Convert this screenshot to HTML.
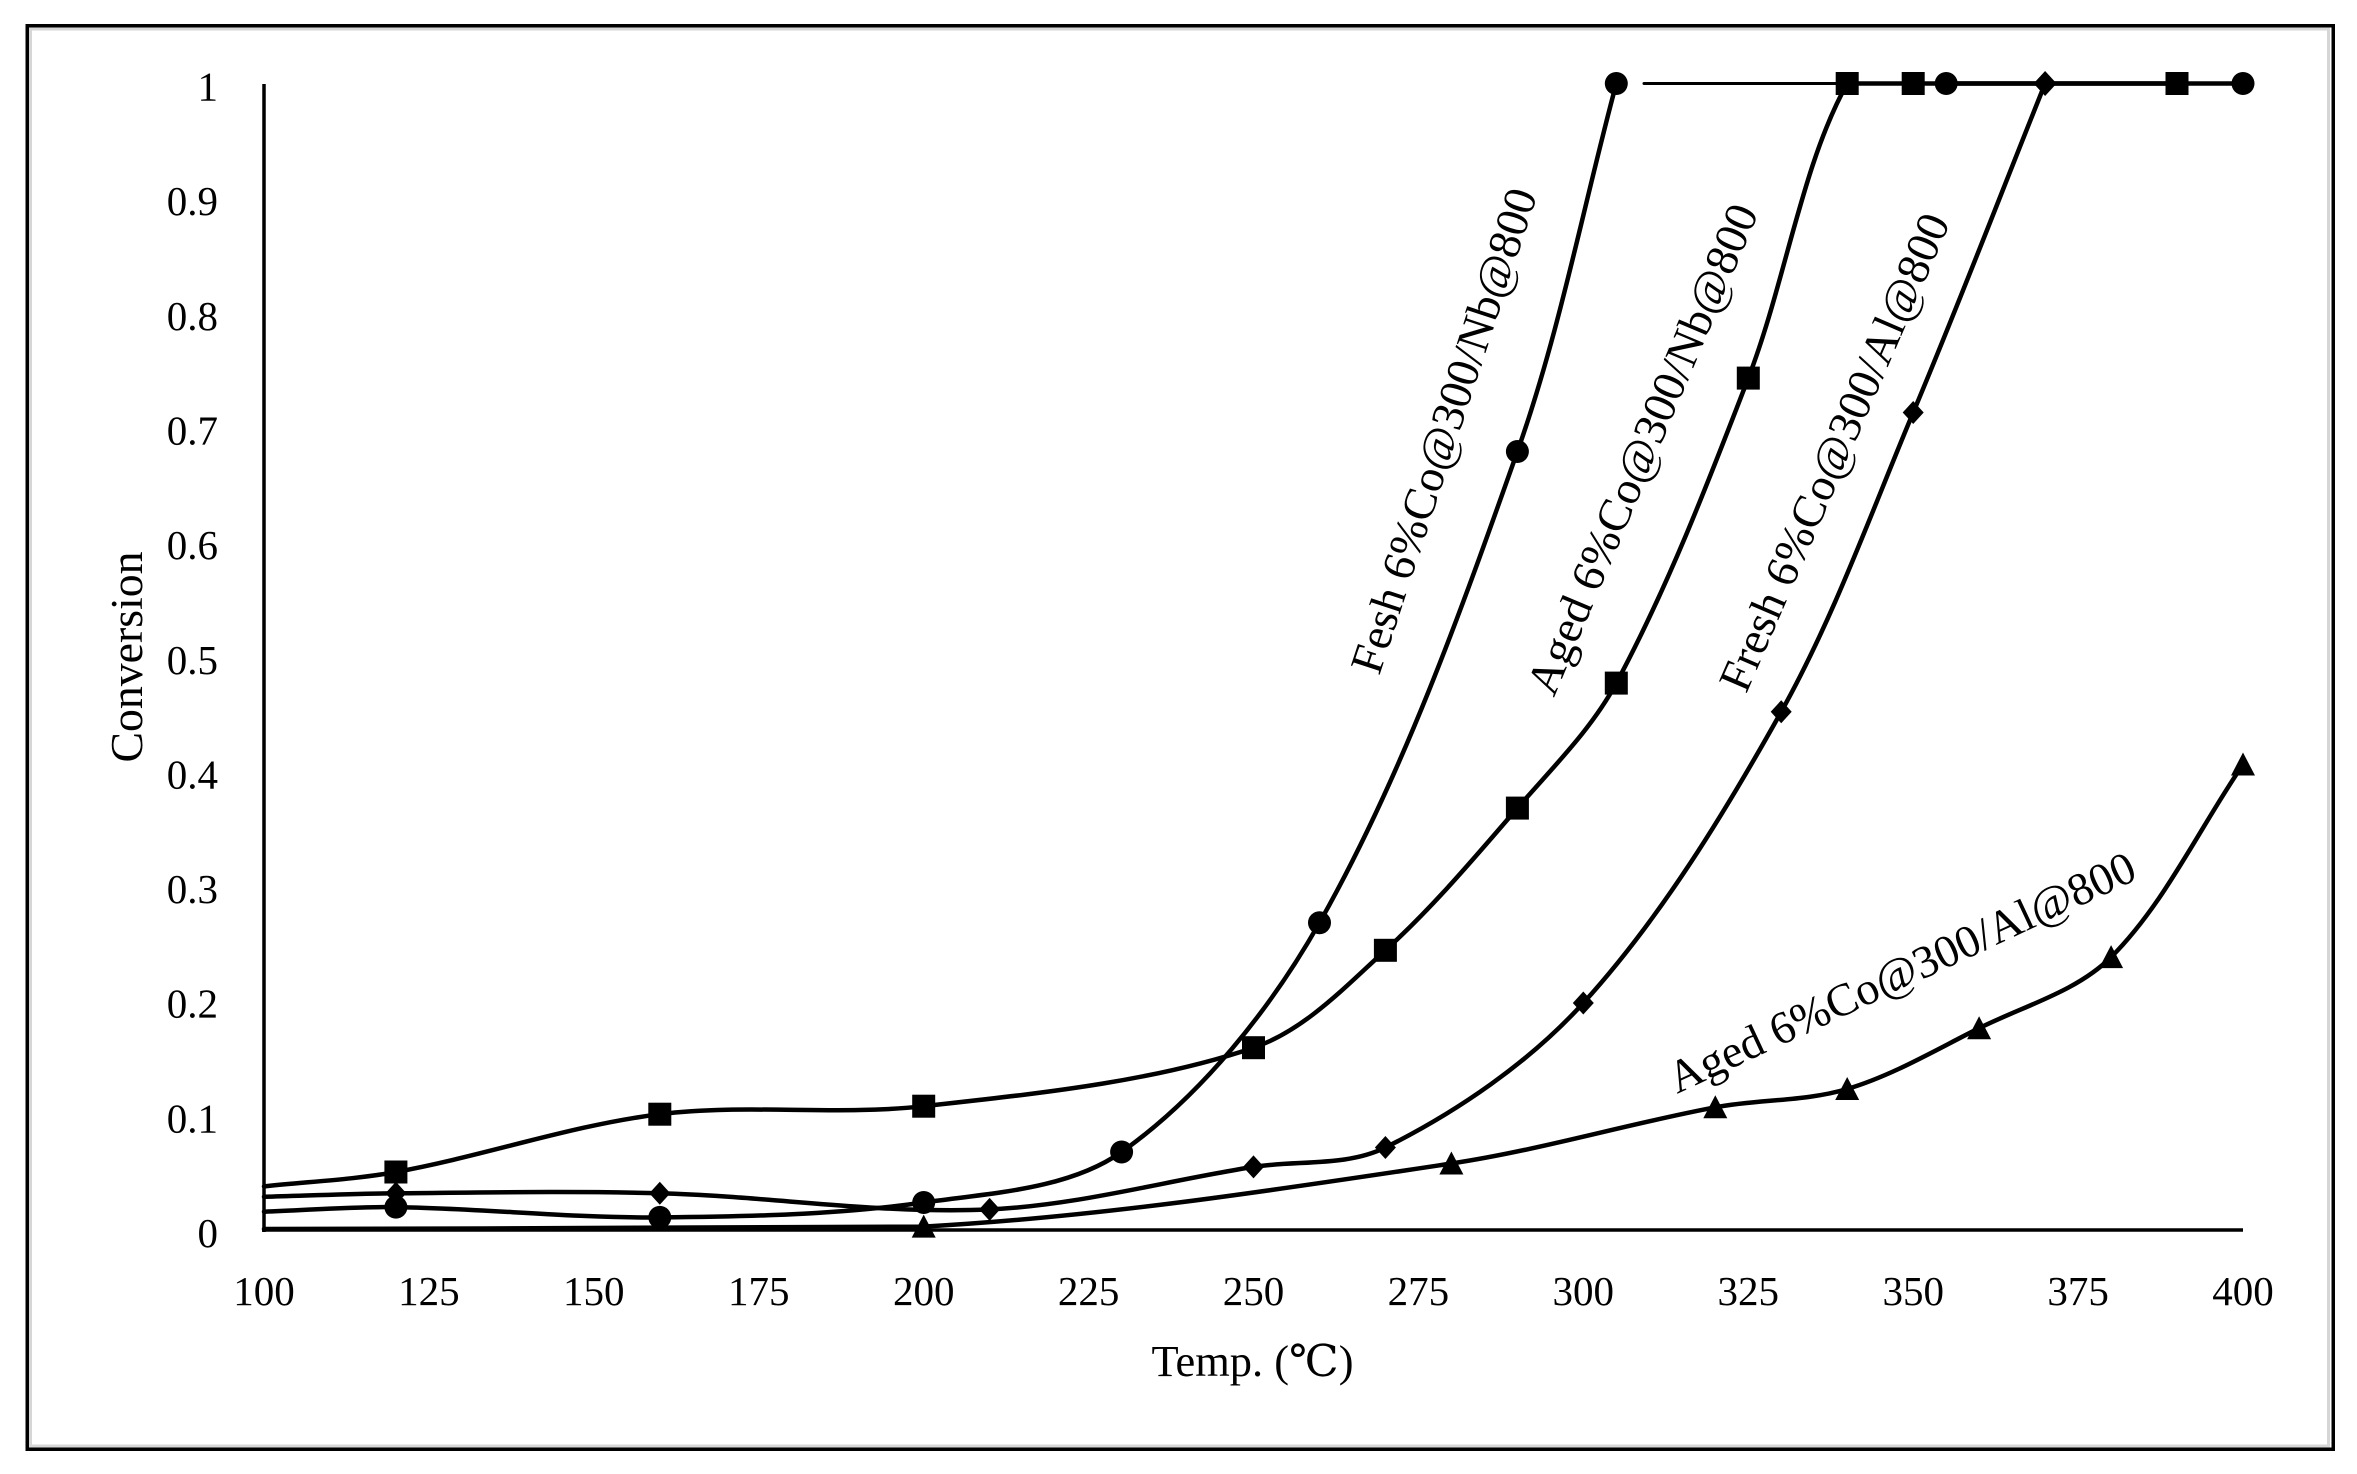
<!DOCTYPE html>
<html>
<head>
<meta charset="utf-8">
<style>
  html,body{margin:0;padding:0;background:#fff;}
  svg{display:block;}
  text{font-family:"Liberation Serif","DejaVu Serif",serif;fill:#000;}
</style>
</head>
<body>
<svg width="2357" height="1474" viewBox="0 0 2357 1474" xmlns="http://www.w3.org/2000/svg">
  <rect x="0" y="0" width="2357" height="1474" fill="#fff"/>
  <!-- outer frame -->
  <rect x="27.25" y="25.75" width="2306" height="1423.5" fill="none" stroke="#000" stroke-width="3.5"/>
  <rect x="30.5" y="29" width="2298" height="1417" fill="none" stroke="#d6d6d6" stroke-width="3"/>

  <!-- axes -->
  <line x1="264" y1="84" x2="264" y2="1232" stroke="#000" stroke-width="3.5"/>
  <line x1="262" y1="1230" x2="2243" y2="1230" stroke="#000" stroke-width="3.5"/>

  <!-- y tick labels -->
  <g font-size="41" text-anchor="end">
    <text x="218" y="1247">0</text>
    <text x="218" y="1132.4">0.1</text>
    <text x="218" y="1017.7">0.2</text>
    <text x="218" y="903.1">0.3</text>
    <text x="218" y="788.4">0.4</text>
    <text x="218" y="673.8">0.5</text>
    <text x="218" y="559.1">0.6</text>
    <text x="218" y="444.5">0.7</text>
    <text x="218" y="329.8">0.8</text>
    <text x="218" y="215.2">0.9</text>
    <text x="218" y="100.5">1</text>
  </g>

  <!-- x tick labels -->
  <g font-size="41" text-anchor="middle">
    <text x="264" y="1305">100</text>
    <text x="428.9" y="1305">125</text>
    <text x="593.8" y="1305">150</text>
    <text x="758.8" y="1305">175</text>
    <text x="923.7" y="1305">200</text>
    <text x="1088.6" y="1305">225</text>
    <text x="1253.5" y="1305">250</text>
    <text x="1418.4" y="1305">275</text>
    <text x="1583.3" y="1305">300</text>
    <text x="1748.3" y="1305">325</text>
    <text x="1913.2" y="1305">350</text>
    <text x="2078.1" y="1305">375</text>
    <text x="2243" y="1305">400</text>
  </g>

  <!-- axis titles -->
  <text x="0" y="0" font-size="45" text-anchor="middle" textLength="211" lengthAdjust="spacingAndGlyphs" transform="translate(142,657) rotate(-90)">Conversion</text>
  <text x="1252.5" y="1376" font-size="44" text-anchor="middle" textLength="202" lengthAdjust="spacingAndGlyphs">Temp. (℃)</text>

  <!-- series curves -->
  <g fill="none" stroke="#000" stroke-width="4.5" stroke-linejoin="round" stroke-linecap="round">
    <!-- base line at 1.0 -->
    <path d="M1644,83.5 L2243,83.5" stroke-width="3"/>
    <!-- Fresh Nb (circles) -->
    <path d="M264,1211.7 C308.0,1210.2 351.9,1206.5 395.9,1207.1 C483.8,1208.4 571.8,1218.2 659.8,1217.4 C747.8,1216.6 836.9,1214.8 923.7,1202.5 C990.8,1193.0 1068.5,1189.5 1121.6,1152.0 C1200.4,1096.3 1270.4,1009.6 1319.5,922.7 C1402.3,776.1 1460.7,611.8 1517.4,451.5 C1559.7,332.0 1583.3,206.2 1616.3,83.5"/>
    <path d="M1946.2,83.5 L2243,83.5"/>
    <!-- Aged Nb (squares) -->
    <path d="M264,1186.4 C308.0,1181.6 352.4,1179.9 395.9,1172.0 C484.4,1155.9 570.8,1125.3 659.8,1114.2 C746.7,1103.4 836.5,1116.0 923.7,1106.2 C1034.4,1093.8 1150.2,1082.6 1253.5,1047.7 C1304.1,1030.6 1345.1,986.9 1385.4,950.3 C1433.1,907.0 1475.1,857.0 1517.4,808.1 C1552.1,767.9 1591.3,729.6 1616.3,683.1 C1668.3,586.2 1708.5,481.4 1748.3,378.1 C1785.5,281.5 1801.9,164.5 1847.2,83.5 L2177,83.5"/>
    <!-- Fresh Al (diamonds) -->
    <path d="M264,1196.8 C308.0,1195.6 351.9,1193.7 395.9,1193.3 C483.8,1192.5 571.9,1190.9 659.8,1193.3 C769.8,1196.3 880.2,1214.3 989.6,1209.4 C1078.1,1205.5 1165.5,1180.7 1253.5,1166.9 C1297.4,1160.0 1346.6,1166.8 1385.4,1147.5 C1456.6,1112.1 1529.2,1062.6 1583.3,1003.0 C1661.1,917.3 1724.2,813.8 1781.2,711.8 C1834.1,617.0 1871.0,513.0 1913.2,412.5 C1959.0,303.6 2001.1,193.2 2045.1,83.5"/>
    <!-- Aged Al (triangles) -->
    <path d="M264,1229 C483.9,1228.2 704.5,1228.5 923.7,1226.6 C1100.3,1216.9 1276.4,1189.9 1451.4,1163.5 C1540.2,1150.1 1627.0,1123.9 1715.3,1107.3 C1758.9,1099.1 1805.1,1101.6 1847.2,1089.0 C1893.1,1075.2 1935.8,1049.8 1979.1,1028.2 C2023.8,1005.9 2076.7,991.5 2111.1,957.1 C2164.7,903.6 2199.0,828.7 2243,764.5"/>
  </g>

  <!-- markers -->
  <g fill="#000">
    <!-- circles -->
    <circle cx="395.9" cy="1207.1" r="11.5"/>
    <circle cx="659.8" cy="1217.4" r="11.5"/>
    <circle cx="923.7" cy="1202.5" r="11.5"/>
    <circle cx="1121.6" cy="1152.0" r="11.5"/>
    <circle cx="1319.5" cy="922.7" r="11.5"/>
    <circle cx="1517.4" cy="451.5" r="11.5"/>
    <circle cx="1616.3" cy="83.5" r="11.5"/>
    <circle cx="1946.2" cy="83.5" r="11.5"/>
    <circle cx="2243" cy="83.5" r="11.5"/>
    <!-- squares -->
    <rect x="384.4" y="1160.5" width="23" height="23"/>
    <rect x="648.3" y="1102.7" width="23" height="23"/>
    <rect x="912.2" y="1094.7" width="23" height="23"/>
    <rect x="1242" y="1036.2" width="23" height="23"/>
    <rect x="1373.9" y="938.8" width="23" height="23"/>
    <rect x="1505.9" y="796.6" width="23" height="23"/>
    <rect x="1604.8" y="671.6" width="23" height="23"/>
    <rect x="1736.8" y="366.6" width="23" height="23"/>
    <rect x="1835.7" y="72" width="23" height="23"/>
    <rect x="1901.7" y="72" width="23" height="23"/>
    <rect x="2165.5" y="72" width="23" height="23"/>
    <!-- diamonds -->
    <path d="M395.9,1181.8 L406.4,1193.3 L395.9,1204.8 L385.4,1193.3 Z"/>
    <path d="M659.8,1181.8 L670.3,1193.3 L659.8,1204.8 L649.3,1193.3 Z"/>
    <path d="M989.6,1197.9 L1000.1,1209.4 L989.6,1220.9 L979.1,1209.4 Z"/>
    <path d="M1253.5,1155.4 L1264,1166.9 L1253.5,1178.4 L1243,1166.9 Z"/>
    <path d="M1385.4,1136 L1395.9,1147.5 L1385.4,1159 L1374.9,1147.5 Z"/>
    <path d="M1583.3,991.5 L1593.8,1003 L1583.3,1014.5 L1572.8,1003 Z"/>
    <path d="M1781.2,700.3 L1791.7,711.8 L1781.2,723.3 L1770.7,711.8 Z"/>
    <path d="M1913.2,401 L1923.7,412.5 L1913.2,424 L1902.7,412.5 Z"/>
    <path d="M2045.1,71 L2056.6,83.5 L2045.1,96 L2033.6,83.5 Z"/>
    <!-- triangles -->
    <path d="M923.7,1214.6 L935.7,1237.6 L911.7,1237.6 Z"/>
    <path d="M1451.4,1151.5 L1463.4,1174.5 L1439.4,1174.5 Z"/>
    <path d="M1715.3,1095.3 L1727.3,1118.3 L1703.3,1118.3 Z"/>
    <path d="M1847.2,1077 L1859.2,1100 L1835.2,1100 Z"/>
    <path d="M1979.1,1016.2 L1991.1,1039.2 L1967.1,1039.2 Z"/>
    <path d="M2111.1,945.1 L2123.1,968.1 L2099.1,968.1 Z"/>
    <path d="M2243,752.5 L2255,775.5 L2231,775.5 Z"/>
  </g>

  <!-- series labels -->
  <g font-size="46" text-anchor="middle">
    <text x="0" y="0" dy="0.34em" textLength="507" lengthAdjust="spacingAndGlyphs" transform="translate(1443.5,430.5) rotate(-71.8)">Fesh 6%Co@300/Nb@800</text>
    <text x="0" y="0" dy="0.34em" textLength="527" lengthAdjust="spacingAndGlyphs" transform="translate(1642,449) rotate(-67.1)">Aged 6%Co@300/Nb@800</text>
    <text x="0" y="0" dy="0.34em" textLength="515" lengthAdjust="spacingAndGlyphs" transform="translate(1834,452) rotate(-66.6)">Fresh 6%Co@300/Al@800</text>
    <text x="0" y="0" dy="0.34em" textLength="510" lengthAdjust="spacingAndGlyphs" transform="translate(1901.5,972) rotate(-25)">Aged 6%Co@300/Al@800</text>
  </g>
</svg>
</body>
</html>
